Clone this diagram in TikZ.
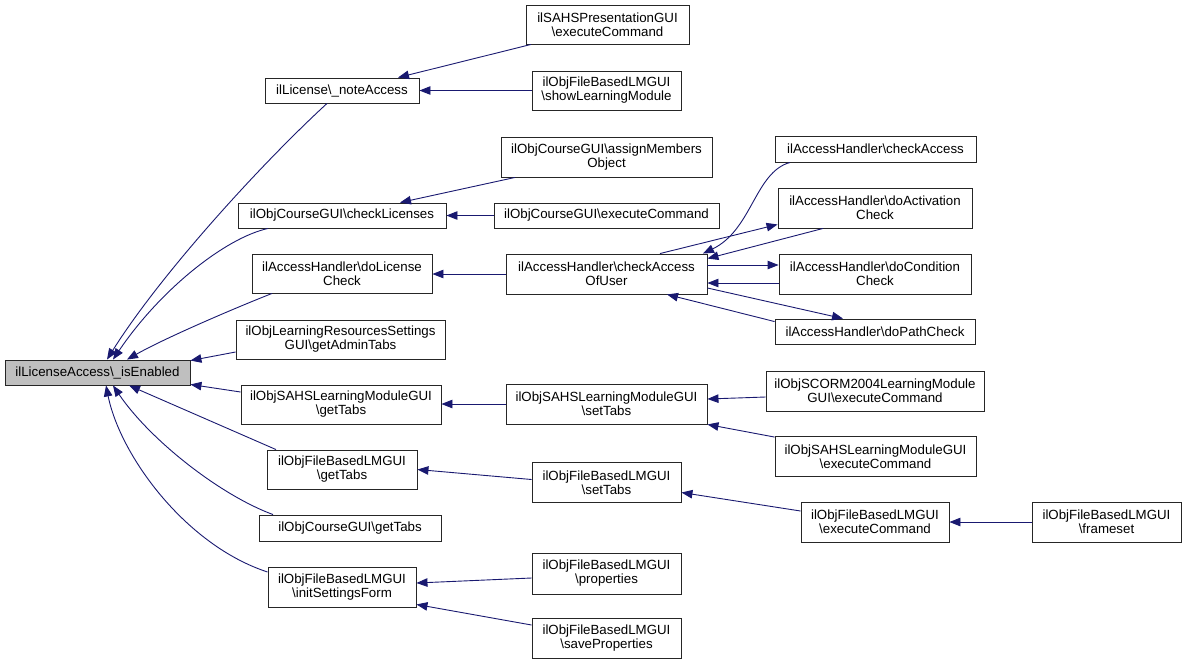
\documentclass[tikz,border=0pt]{standalone}
\usepackage{fontspec}
\setmainfont{Liberation Sans}
\usetikzlibrary{arrows.meta}
\definecolor{edgeblue}{HTML}{191970}
\definecolor{nodegray}{HTML}{BFBFBF}
\begin{document}
\begin{tikzpicture}[x=1pt,y=-1pt,
  box/.style={draw=black!85, line width=0.9pt, inner sep=0pt, align=center,
    font=\fontsize{13.3}{14}\selectfont},
  edge/.style={draw=edgeblue, line width=0.9pt, -{Triangle[length=11pt,width=8.5pt]}}]
\useasboundingbox (0,0) rectangle (1185,665);
% nodes
\node[box, fill=nodegray, minimum width=185pt, minimum height=25pt] (main) at (97.5,372.5) {ilLicenseAccess\textbackslash\_isEnabled};
\node[box, minimum width=154pt, minimum height=25pt] (noteAccess) at (342,90.5) {ilLicense\textbackslash\_noteAccess};
\node[box, minimum width=163pt, minimum height=39pt] (SAHSPres) at (607.5,24.5) {ilSAHSPresentationGUI\\\textbackslash executeCommand};
\node[box, minimum width=149pt, minimum height=39pt] (showLM) at (606.5,90.5) {ilObjFileBasedLMGUI\\\textbackslash showLearningModule};
\node[box, minimum width=211pt, minimum height=40pt] (assign) at (606.5,157) {ilObjCourseGUI\textbackslash assignMembers\\Object};
\node[box, minimum width=208pt, minimum height=25pt] (checkLic) at (342,215.5) {ilObjCourseGUI\textbackslash checkLicenses};
\node[box, minimum width=225pt, minimum height=25pt] (courseExec) at (606.5,215.5) {ilObjCourseGUI\textbackslash executeCommand};
\node[box, minimum width=180pt, minimum height=39pt] (doLic) at (342,273.5) {ilAccessHandler\textbackslash doLicense\\Check};
\node[box, minimum width=201pt, minimum height=40pt] (cau) at (606.5,274) {ilAccessHandler\textbackslash checkAccess\\OfUser};
\node[box, minimum width=201pt, minimum height=26pt] (checkAccess) at (875.5,149) {ilAccessHandler\textbackslash checkAccess};
\node[box, minimum width=194pt, minimum height=40pt] (doAct) at (875,208) {ilAccessHandler\textbackslash doActivation\\Check};
\node[box, minimum width=192pt, minimum height=40pt] (doCond) at (875,274) {ilAccessHandler\textbackslash doCondition\\Check};
\node[box, minimum width=200pt, minimum height=25pt] (doPath) at (875,331.5) {ilAccessHandler\textbackslash doPathCheck};
\node[box, minimum width=209pt, minimum height=39pt] (adminTabs) at (340.5,339.5) {ilObjLearningResourcesSettings\\GUI\textbackslash getAdminTabs};
\node[box, minimum width=200pt, minimum height=39pt] (sahsGet) at (341,404.5) {ilObjSAHSLearningModuleGUI\\\textbackslash getTabs};
\node[box, minimum width=201pt, minimum height=40pt] (sahsSet) at (606.5,404) {ilObjSAHSLearningModuleGUI\\\textbackslash setTabs};
\node[box, minimum width=218pt, minimum height=40pt] (scorm) at (875,391) {ilObjSCORM2004LearningModule\\GUI\textbackslash executeCommand};
\node[box, minimum width=201pt, minimum height=40pt] (sahsExec) at (875.5,456.5) {ilObjSAHSLearningModuleGUI\\\textbackslash executeCommand};
\node[box, minimum width=150pt, minimum height=39pt] (fbGet) at (342,469.5) {ilObjFileBasedLMGUI\\\textbackslash getTabs};
\node[box, minimum width=149pt, minimum height=40pt] (fbSet) at (606.5,482.5) {ilObjFileBasedLMGUI\\\textbackslash setTabs};
\node[box, minimum width=148pt, minimum height=40pt] (fbExec) at (875,522) {ilObjFileBasedLMGUI\\\textbackslash executeCommand};
\node[box, minimum width=149pt, minimum height=40pt] (frameset) at (1106.5,522) {ilObjFileBasedLMGUI\\\textbackslash frameset};
\node[box, minimum width=182pt, minimum height=26pt] (courseGet) at (350,528) {ilObjCourseGUI\textbackslash getTabs};
\node[box, minimum width=148pt, minimum height=40pt] (initSF) at (342,587) {ilObjFileBasedLMGUI\\\textbackslash initSettingsForm};
\node[box, minimum width=149pt, minimum height=41pt] (props) at (606.5,573.5) {ilObjFileBasedLMGUI\\\textbackslash properties};
\node[box, minimum width=149pt, minimum height=40pt] (saveProps) at (606.5,638.5) {ilObjFileBasedLMGUI\\\textbackslash saveProperties};
% right-side edges
\draw[edge] ([xshift=-76.5pt]SAHSPres.south) -- ([xshift=56pt]noteAccess.north);
\draw[edge] (showLM.west) -- (noteAccess.east);
\draw[edge] ([xshift=-91.5pt]assign.south) -- ([xshift=58pt]checkLic.north);
\draw[edge] (courseExec.west) -- (checkLic.east);
\draw[edge] (cau.west) -- (cau.west -| doLic.east);
\draw[edge] ([xshift=-85.5pt]checkAccess.south) .. controls (755,172) and (752,230) .. ([xshift=-4.5pt]cau.north east);
\draw[edge] ([xshift=53.5pt]cau.north) -- ([yshift=4pt]doAct.south west);
\draw[edge] ([xshift=-52pt]doAct.south) -- ([yshift=-5pt]cau.north east);
\draw[edge] ([yshift=9pt]cau.east) -- ([yshift=9pt]doCond.west);
\draw[edge] ([yshift=-9pt]doCond.west) -- ([yshift=-9pt]cau.east);
\draw[edge] ([yshift=-14pt]cau.east) -- ([xshift=-32pt]doPath.north);
\draw[edge] ([yshift=-3pt]doPath.north west) -- ([xshift=60.5pt]cau.south);
\draw[edge] (sahsSet.west) -- (sahsSet.west -| sahsGet.east);
\draw[edge] ([yshift=-6pt]scorm.west) -- ([yshift=5pt]sahsSet.east);
\draw[edge] ([yshift=-1pt]sahsExec.north west) -- (sahsSet.south east);
\draw[edge] ([yshift=3pt]fbSet.west) -- (fbGet.east);
\draw[edge] ([yshift=11pt]fbExec.west) -- ([yshift=-10pt]fbSet.east);
\draw[edge] (frameset.west) -- (fbExec.east);
\draw[edge] ([yshift=-4.5pt]props.west) -- ([yshift=4pt]initSF.east);
\draw[edge] ([yshift=13.5pt]saveProps.west) -- ([yshift=3pt]initSF.south east);
% edges into the root
\draw[edge] ([xshift=-15pt]noteAccess.south) .. controls (260,165) and (160,275) .. ([xshift=9.5pt]main.north);
\draw[edge] ([xshift=-74pt]checkLic.south) .. controls (225,238) and (160,290) .. ([xshift=15.5pt]main.north);
\draw[edge] ([xshift=-70pt]doLic.south) .. controls (235,308) and (165,338) .. ([xshift=29.5pt]main.north);
\draw[edge] ([yshift=-12.5pt]adminTabs.west) -- ([yshift=-1pt]main.north east);
\draw[edge] ([yshift=12.5pt]sahsGet.west) -- ([yshift=1pt]main.south east);
\draw[edge] ([xshift=-66pt]fbGet.north) -- ([xshift=31.5pt]main.south);
\draw[edge] ([xshift=-77pt]courseGet.north) .. controls (220,495) and (150,440) .. ([xshift=15.5pt]main.south);
\draw[edge] ([yshift=15pt]initSF.west) .. controls (185,545) and (120,455) .. ([xshift=8.5pt]main.south);
\end{tikzpicture}
\end{document}
